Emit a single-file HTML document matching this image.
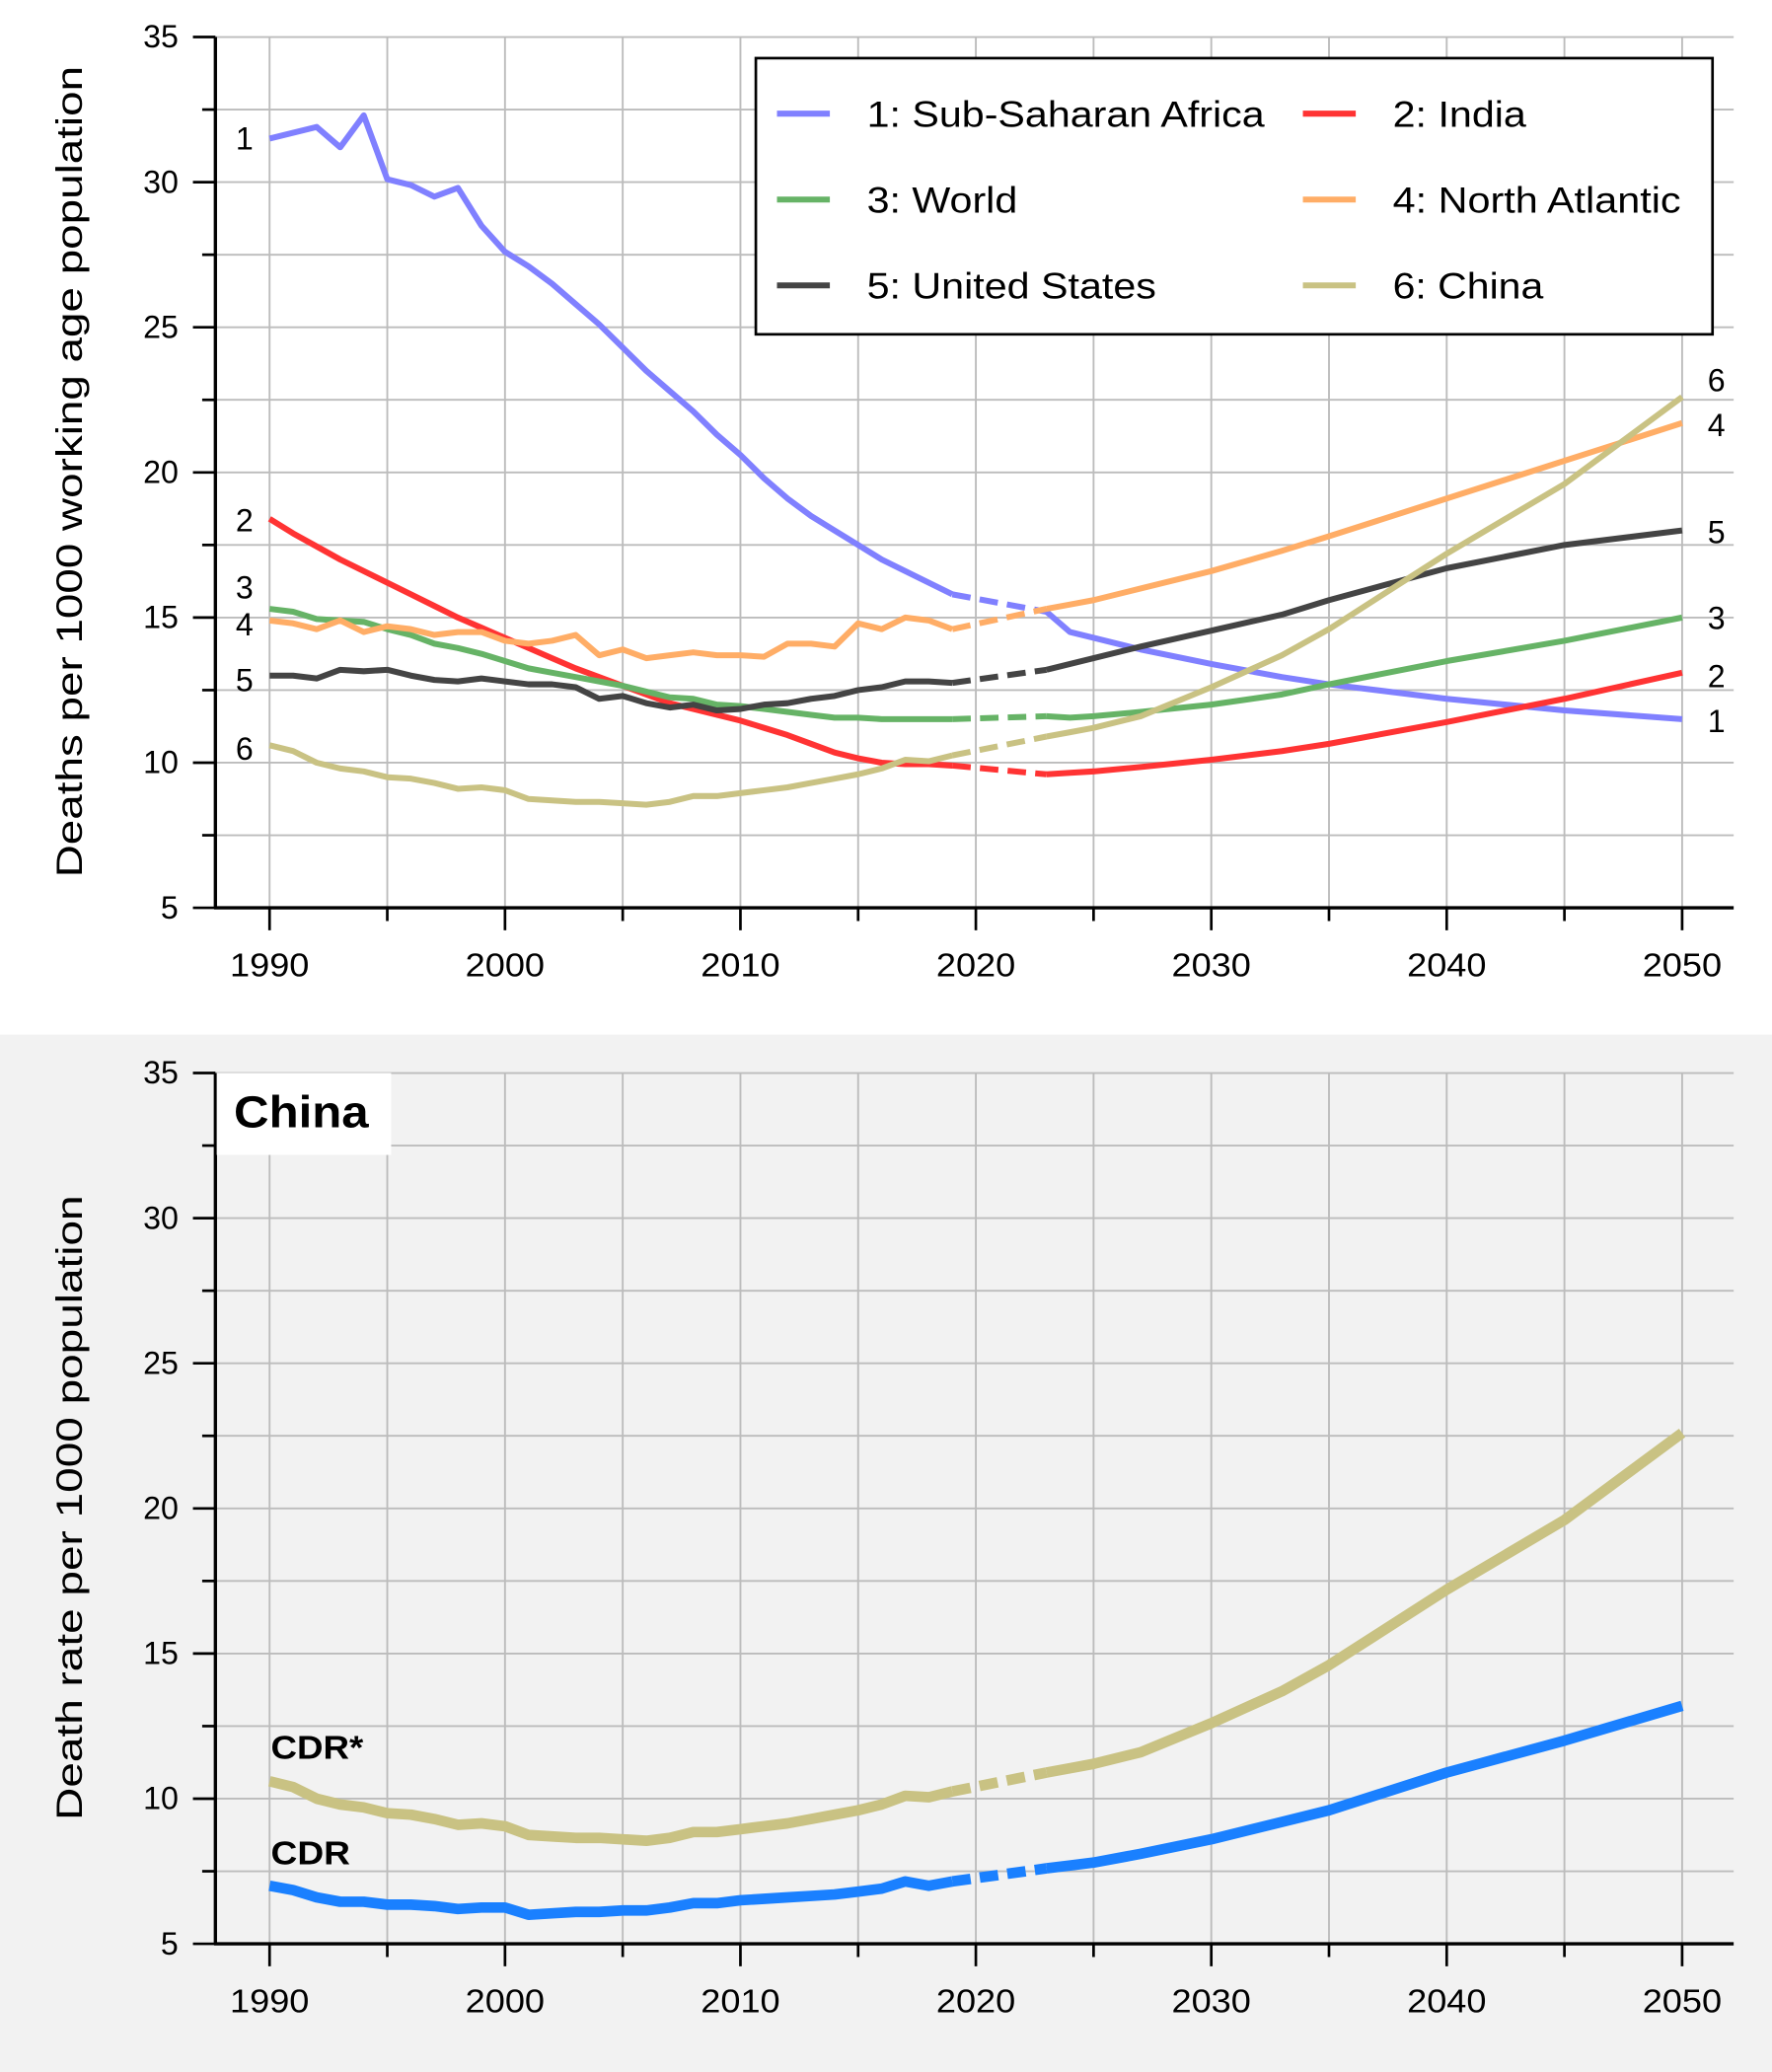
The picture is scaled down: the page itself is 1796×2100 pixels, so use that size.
<!DOCTYPE html>
<html><head><meta charset="utf-8"><style>
html,body{margin:0;padding:0;background:#fff}
svg{display:block;font-family:"Liberation Sans",Arial,sans-serif}
</style></head><body>
<svg id="s" width="1796" height="2100" viewBox="0 0 1341 1568" xmlns="http://www.w3.org/2000/svg">
<rect x="0" y="783" width="1341" height="785" fill="#f2f2f2"/>
<g id="topchart"></g>
<g id="botchart"></g>
</svg>
<script>
const histYears=[1990,1991,1992,1993,1994,1995,1996,1997,1998,1999,2000,2001,2002,2003,2004,2005,2006,2007,2008,2009,2010,2011,2012,2013,2014,2015,2016,2017,2018,2019];
const projYears=[2023,2024,2025,2027,2030,2033,2035,2040,2045,2050];
const ssaHist=[31.5,31.7,31.9,31.2,32.3,30.1,29.9,29.5,29.8,28.5,27.6,27.1,26.5,25.8,25.1,24.3,23.5,22.8,22.1,21.3,20.6,19.8,19.1,18.5,18.0,17.5,17.0,16.6,16.2,15.8];
const ssaProj=[15.2,14.5,14.3,13.9,13.4,12.95,12.7,12.2,11.8,11.5];
const indiaHist=[18.4,17.9,17.45,17.0,16.6,16.2,15.8,15.4,15.0,14.65,14.3,13.95,13.6,13.25,12.95,12.65,12.35,12.05,11.85,11.65,11.45,11.2,10.95,10.65,10.35,10.15,10.0,9.95,9.95,9.9];
const indiaProj=[9.6,9.65,9.7,9.85,10.1,10.4,10.65,11.4,12.2,13.1];
const worldHist=[15.3,15.2,14.95,14.9,14.85,14.6,14.4,14.1,13.95,13.75,13.5,13.25,13.1,12.95,12.8,12.65,12.45,12.25,12.2,12.0,11.95,11.85,11.75,11.65,11.55,11.55,11.5,11.5,11.5,11.5];
const worldProj=[11.6,11.55,11.6,11.75,12.0,12.35,12.7,13.5,14.2,15.0];
const naHist=[14.9,14.8,14.6,14.9,14.5,14.7,14.6,14.4,14.5,14.5,14.2,14.1,14.2,14.4,13.7,13.9,13.6,13.7,13.8,13.7,13.7,13.65,14.1,14.1,14.0,14.8,14.6,15.0,14.9,14.6];
const naProj=[15.3,15.45,15.6,16.0,16.6,17.3,17.8,19.1,20.4,21.7];
const usHist=[13.0,13.0,12.9,13.2,13.15,13.2,13.0,12.85,12.8,12.9,12.8,12.7,12.7,12.6,12.2,12.3,12.05,11.9,12.0,11.8,11.85,12.0,12.05,12.2,12.3,12.5,12.6,12.8,12.8,12.75];
const usProj=[13.2,13.4,13.6,14.0,14.55,15.1,15.6,16.7,17.5,18.0];
const chinaHist=[10.6,10.4,10.0,9.8,9.7,9.5,9.45,9.3,9.1,9.15,9.05,8.75,8.7,8.65,8.65,8.6,8.55,8.65,8.85,8.85,8.95,9.05,9.15,9.3,9.45,9.6,9.8,10.1,10.05,10.25];
const chinaProj=[10.9,11.05,11.2,11.6,12.6,13.7,14.6,17.2,19.6,22.6];
const cdrHist=[7.0,6.85,6.6,6.45,6.45,6.35,6.35,6.3,6.2,6.25,6.25,6.0,6.05,6.1,6.1,6.15,6.15,6.25,6.4,6.4,6.5,6.55,6.6,6.65,6.7,6.8,6.9,7.15,7.0,7.15];
const cdrProj=[7.6,7.7,7.8,8.1,8.6,9.2,9.6,10.9,12.0,13.2];
const yTicks=[5,10,15,20,25,30,35];
const xTicks=[1990,2000,2010,2020,2030,2040,2050];
const NS="http://www.w3.org/2000/svg";
function mk(p,tag,at,txt){const e=document.createElementNS(NS,tag);for(const k in at)e.setAttribute(k,at[k]);if(txt!==undefined)e.textContent=String(txt);p.appendChild(e);return e;}
function axes(g,y35,y5){
  const X=v=>204+(v-1990)*(1273-204)/60;
  const Y=v=>y5-(v-5)*(y5-y35)/30;
  for(let yr=1990;yr<=2050;yr+=5){const l=mk(g,'line',{x1:X(yr),x2:X(yr),y1:y35,y2:y5,stroke:'#bcbcbc','stroke-width':1.4});
    
    }
  for(let v=7.5;v<=35;v+=2.5){const l=mk(g,'line',{x1:163,x2:1312,y1:Y(v),y2:Y(v),stroke:'#bcbcbc','stroke-width':1.4});
    
    }
  mk(g,'line',{x1:163,x2:163,y1:y35,y2:y5+1,stroke:'#000','stroke-width':2.5});
  mk(g,'line',{x1:162,x2:1312,y1:y5,y2:y5,stroke:'#000','stroke-width':2.5});
  for(let v=5;v<=35;v+=2.5){mk(g,'line',{x1:v%5==0?146:153,x2:163,y1:Y(v),y2:Y(v),stroke:'#000','stroke-width':2});}
  yTicks.forEach(v=>{const t=mk(g,'text',{x:135,y:Y(v)+8,'text-anchor':'end','font-size':24},v);
    
    });
  for(let yr=1990;yr<=2050;yr+=5){mk(g,'line',{x1:X(yr),x2:X(yr),y1:y5,y2:y5+(yr%10==0?17:10),stroke:'#000','stroke-width':2});}
  xTicks.forEach(v=>{const t=mk(g,'text',{x:X(v),y:y5+52,'text-anchor':'middle','font-size':25,textLength:60,lengthAdjust:'spacingAndGlyphs'},v);
    
    });
  return [X,Y];
}
function series(g,X,Y,hist,proj,color,w,name){
  const gs=mk(g,'g',{});
  
  
  const hp=hist.map((v,i)=>X(histYears[i])+','+Y(v)).join(' ');
  const pp=proj.map((v,i)=>X(projYears[i])+','+Y(v)).join(' ');
  const a={fill:'none',stroke:color,'stroke-width':w,'stroke-linejoin':'round'};
  mk(gs,'polyline',Object.assign({points:hp},a));
  mk(gs,'polyline',Object.assign({points:X(2019)+','+Y(hist[hist.length-1])+' '+X(2023)+','+Y(proj[0]),'stroke-dasharray':'14,7'},a));
  mk(gs,'polyline',Object.assign({points:pp},a));
}
const topG=document.getElementById('topchart');
const axT=axes(topG,28,687);
const XT=axT[0],YT=axT[1];
const yl=mk(topG,'text',{transform:'translate(62,357) rotate(-90)','text-anchor':'middle','font-size':28,textLength:614,lengthAdjust:'spacingAndGlyphs'},'Deaths per 1000 working age population');


const seriesList=[[ssaHist,ssaProj,'#8080ff','1: Sub-Saharan Africa','1',301],[indiaHist,indiaProj,'#ff3333','2: India','2',101],[worldHist,worldProj,'#66b366','3: World','3',114],[naHist,naProj,'#ffad66','4: North Atlantic','4',218],[usHist,usProj,'#444444','5: United States','5',219],[chinaHist,chinaProj,'#c9c283','6: China','6',114]];
seriesList.forEach(s=>series(topG,XT,YT,s[0],s[1],s[2],4.5,'series-'+s[4]));
const leftLab=[[1,104],[2,393],[3,444],[4,472],[5,514],[6,566]];
leftLab.forEach(l=>{const t=mk(topG,'text',{x:185,y:l[1]+9,'text-anchor':'middle','font-size':24},l[0]);
  
  });
const rightLab=[[6,287],[4,321],[5,402],[3,467],[2,511],[1,545]];
rightLab.forEach(l=>{const t=mk(topG,'text',{x:1299,y:l[1]+9,'text-anchor':'middle','font-size':24},l[0]);
  
  });
const lg=mk(topG,'g',{});


mk(lg,'rect',{x:572,y:44,width:724,height:209,fill:'#fff',stroke:'#000','stroke-width':2});
seriesList.forEach((s,i)=>{const col=i%2,row=Math.floor(i/2);const x0=col?986:588,y0=86+row*65;
  const e=mk(lg,'g',{});
  
  
  mk(e,'line',{x1:x0,x2:x0+40,y1:y0,y2:y0,stroke:s[2],'stroke-width':4.5});
  mk(e,'text',{x:x0+68,y:y0+10,'font-size':28,textLength:s[5],lengthAdjust:'spacingAndGlyphs'},s[3]);});
const botG=document.getElementById('botchart');
const axB=axes(botG,812,1471);
const XB=axB[0],YB=axB[1];
const yl2=mk(botG,'text',{transform:'translate(62,1141) rotate(-90)','text-anchor':'middle','font-size':28,textLength:473,lengthAdjust:'spacingAndGlyphs'},'Death rate per 1000 population');


const tb=mk(botG,'rect',{x:164,y:812,width:132,height:62,fill:'#fff'});


const tt=mk(botG,'text',{x:177,y:853,'font-size':34,'font-weight':'bold',textLength:102,lengthAdjust:'spacingAndGlyphs'},'China');


series(botG,XB,YB,chinaHist,chinaProj,'#c9c283',8,'series-cdr-star');
series(botG,XB,YB,cdrHist,cdrProj,'#1a80ff',8,'series-cdr');
const l1=mk(botG,'text',{x:205,y:1331,'font-size':25,'font-weight':'bold',textLength:70,lengthAdjust:'spacingAndGlyphs'},'CDR*');


const l2=mk(botG,'text',{x:205,y:1411,'font-size':25,'font-weight':'bold',textLength:60,lengthAdjust:'spacingAndGlyphs'},'CDR');


</script>
</body></html>
